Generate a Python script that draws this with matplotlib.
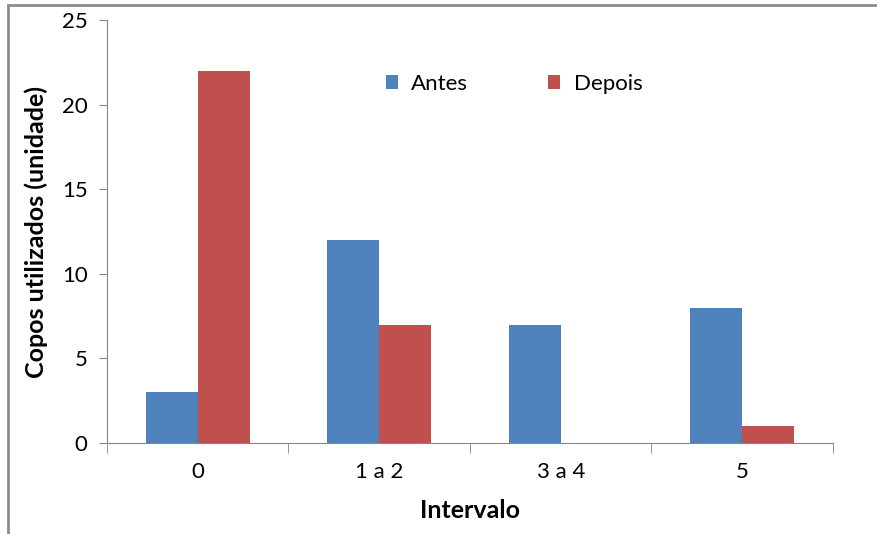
import matplotlib.pyplot as plt
import numpy as np
from matplotlib.patches import Rectangle

categorias = ['0', '1 a 2', '3 a 4', '5']
antes = [3, 12, 7, 8]
depois = [22, 7, 0, 1]

plt.rcParams['font.family'] = ['Lato', 'DejaVu Sans']

fig = plt.figure(figsize=(8.78, 5.34), dpi=100)
axe = fig.add_axes([107/878, 91/534, 726/878, 423/534])

# frame of the chart area
fig.patches.append(Rectangle((8/878, -0.1), 1.2, (534-5)/534 + 0.1,
                             transform=fig.transFigure, fill=False,
                             edgecolor='#8c8c8c', linewidth=2))

x = np.arange(len(categorias))
w = 1 / 3.5
axe.bar(x - w/2, antes, w, color='#4F81BD', label='Antes')
axe.bar(x + w/2, depois, w, color='#C0504D', label='Depois')

axe.set_xlim(-0.5, len(categorias) - 0.5)
axe.set_ylim(0, 25)
axe.set_yticks(range(0, 26, 5))
axe.set_xticks(x)
axe.set_xticklabels(categorias)
axe.set_xticks(np.arange(-0.5, len(categorias)), minor=True)

gray = '#868686'
axe.spines['right'].set_visible(False)
axe.spines['top'].set_visible(False)
axe.spines['left'].set_color(gray)
axe.spines['bottom'].set_color(gray)
axe.tick_params(axis='y', colors=gray, length=6, labelsize=16, labelcolor='#000000', pad=8)
axe.tick_params(axis='x', which='major', length=0, labelsize=16, labelcolor='#000000', pad=14)
axe.tick_params(axis='x', which='minor', length=7, color=gray)

axe.set_xlabel('Intervalo', fontsize=18, fontweight='bold', labelpad=12)
axe.set_ylabel('Copos utilizados (unidade)', fontsize=18, fontweight='bold', labelpad=10)

axe.legend(loc='center', bbox_to_anchor=(407/726, 1 - 64/423), ncol=2, frameon=False,
           fontsize=16, handlelength=0.55, handleheight=0.55, columnspacing=3.6, handletextpad=0.6)

fig.savefig('out.png', dpi=100)
